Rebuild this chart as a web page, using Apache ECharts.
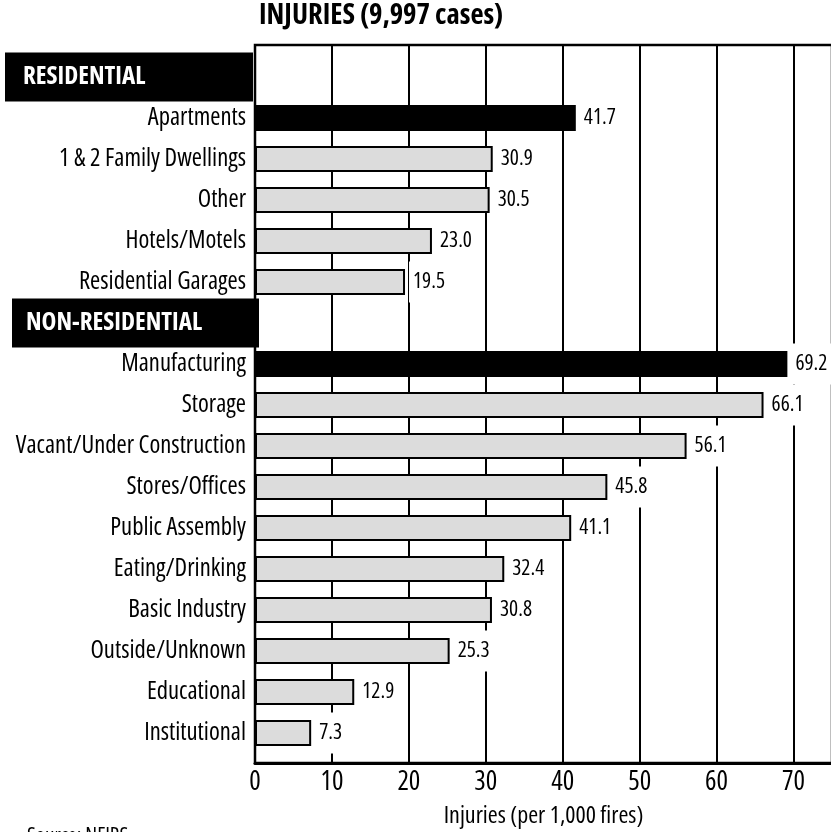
<!DOCTYPE html>
<html><head><meta charset="utf-8">
<script src="https://cdn.jsdelivr.net/npm/echarts@6/dist/echarts.min.js"></script>
<style>html,body{margin:0;padding:0;background:#fff}#c{width:831px;height:832px}</style>
</head><body><div id="c"></div>
<script>
const categories = ['RESIDENTIAL','Apartments','1 & 2 Family Dwellings','Other','Hotels/Motels','Residential Garages','NON-RESIDENTIAL','Manufacturing','Storage','Vacant/Under Construction','Stores/Offices','Public Assembly','Eating/Drinking','Basic Industry','Outside/Unknown','Educational','Institutional'];
const values = ['-',41.7,30.9,30.5,23.0,19.5,'-',69.2,66.1,56.1,45.8,41.1,32.4,30.8,25.3,12.9,7.3];
const headers = ['RESIDENTIAL','NON-RESIDENTIAL'];
const highlighted = ['Apartments','Manufacturing'];
const xTicks = [0,10,20,30,40,50,60,70];
const titleText = 'INJURIES (9,997 cases)';
const axisTitle = 'Injuries (per 1,000 fires)';
const sourceText = 'Source: NFIRS';

const FAM = "'Open Sans'";
const STR = 'condensed';
const cv = document.createElement('canvas').getContext('2d');
function fit(text, w, weight) {
  cv.font = STR + ' ' + (weight || 'normal') + ' 100px ' + FAM;
  return Math.round(100 * w / cv.measureText(text).width * 10) / 10;
}
const fsTitle = fit(titleText, 244, 'bold');
const fsCat = fit('Vacant/Under Construction', 230);
const fsVal = fit('41.7', 32);
const fsTick = fit('70', 23);
const fsAxis = fit(axisTitle, 200);
const fsHdr = fit('NON-RESIDENTIAL', 176, 'bold');
const fsSrc = fit(sourceText, 101);

const chart = echarts.init(document.getElementById('c'), null, {renderer:'canvas'});
const barData = values.map((v,i)=>({
  value: v,
  itemStyle: {color: highlighted.includes(categories[i]) ? '#000' : '#dcdcdc'}
}));
const T = (size, weight) => ({fontFamily: FAM, fontStyle: STR, fontWeight: weight || 'normal', fontSize: size, color: '#000'});
const option = {
  animation: false,
  backgroundColor: '#fff',
  textStyle: {fontFamily: FAM, fontStyle: STR},
  title: [
    {text: titleText, left: 259, top: 19 - fsTitle * 0.62, padding: 0, textStyle: T(fsTitle, 'bold')},
    {text: sourceText, left: 27, top: 826, padding: 0, textStyle: T(fsSrc)}
  ],
  grid: [
    {left: 255, right: -1, top: 56.5, bottom: 78.5, outerBoundsMode: 'none'},
    {left: 255, right: -1, top: 45, bottom: 69, outerBoundsMode: 'none', show: true, borderColor: '#000', borderWidth: 2.5, backgroundColor: 'transparent'}
  ],
  xAxis: [
    {gridIndex: 0, type: 'value', min: 0, max: 75, interval: 10, show: false},
    {gridIndex: 1, type: 'value', min: 0, max: 75, interval: 10,
     name: axisTitle, nameLocation: 'middle', nameGap: 819 - 763 - fsAxis * 0.62,
     nameTextStyle: Object.assign(T(fsAxis), {verticalAlign: 'top'}),
     axisLine: {show: true, lineStyle: {color: '#000', width: 3}},
     axisTick: {show: false},
     splitLine: {show: true, lineStyle: {color: '#000', width: 2}},
     axisLabel: Object.assign({show: true, margin: 6, showMaxLabel: false,
       formatter: v => xTicks.includes(v) ? String(v) : ''}, T(fsTick))}
  ],
  yAxis: [
    {gridIndex: 0, type: 'category', inverse: true, data: categories, z: 10,
     axisLine: {show: false}, axisTick: {show: false}, splitLine: {show: false},
     axisLabel: {interval: 0, margin: -4, color: '#000', fontFamily: FAM, fontStyle: STR,
       formatter: v => {
         const h = headers.indexOf(v);
         if (h >= 0) return '{h' + h + '|' + v + '}' + (h === 0 ? '{sp|}' : '');
         return '{n|' + v + '}';
       },
       rich: {
         n: Object.assign(T(fsCat), {padding: [0, 13, 0, 0]}),
         h0: Object.assign(T(fsHdr, 'bold'), {color: '#fff', backgroundColor: '#000',
              width: 230, height: 49, padding: [0, 0, 0, 18], align: 'left'}),
         h1: Object.assign(T(fsHdr, 'bold'), {color: '#fff', backgroundColor: '#000',
              width: 233, height: 49, padding: [0, 0, 0, 14], align: 'left'}),
         sp: {width: 6, height: 10}
       }}},
    {gridIndex: 1, type: 'value', show: false}
  ],
  series: [{
    type: 'bar', xAxisIndex: 0, yAxisIndex: 0, data: barData, barWidth: 26,
    itemStyle: {borderColor: '#000', borderWidth: 2},
    label: Object.assign({show: true, position: 'right', distance: 4,
      backgroundColor: '#fff', padding: [10, 4, 10, 4],
      formatter: p => (typeof p.value === 'number') ? p.value.toFixed(1) : ''}, T(fsVal))
  }]
};
chart.setOption(option);
</script>
</body></html>
